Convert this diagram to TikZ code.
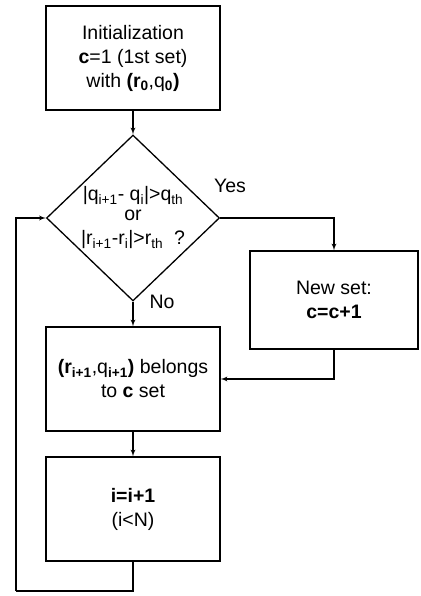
\documentclass[tikz,border=0pt]{standalone}
\usepackage{fontspec}
\setmainfont{Liberation Sans}
\usepackage{tikz}
\usetikzlibrary{arrows}
\usetikzlibrary{positioning}
\usetikzlibrary{shapes.geometric}

\begin{document}
\begin{tikzpicture}[%
>=latex', x=1pt, y=1pt, line width=1.3pt,
every node/.style={font=\fontsize{19.5}{24}\selectfont, align=center},
block/.style={draw, shape=rectangle, minimum width=174pt, minimum height=104pt, inner sep=0pt},
decision/.style={draw, shape=diamond, minimum width=173pt, minimum height=158pt, inner sep=0pt},
tag/.style={inner sep=0pt}
]
\useasboundingbox (0,0) rectangle (420,596);
\node[block] (init) at (133,538) {Initialization\\ \textbf{c}=1 (1st set)\\ with \textbf{(r\textsubscript{0}},q\textsubscript{\textbf{0}}\textbf{)}};
\node[decision,below of=init,node distance=160pt] (test) {|q\textsubscript{i+1}- q\textsubscript{i}|>q\textsubscript{th}\\[-4pt] or\\ |r\textsubscript{i+1}-r\textsubscript{i}|>r\textsubscript{th}\ \ ?};
\node[block,below of=test,node distance=161pt] (member) {\textbf{(r\textsubscript{i+1}},q\textsubscript{\textbf{i+1}}\textbf{)} belongs\\ to \textbf{c} set};
\node[block,below of=member,node distance=130pt] (incr) {\textbf{i=i+1}\\ (i<N)};
\node[block,minimum width=168pt,minimum height=98pt] (newset) at (334,296) {New set:\\ \textbf{c=c+1}};
\node[tag] (yes) at (230,410) {Yes};
\node[tag] (no) at (162,294) {No};
\coordinate (loop) at (16,5);
\draw[->] (init) -- (test);
\draw[->] (test) -- (member);
\draw[->] (member) -- (incr);
\draw[->] (test.east) -| (newset.north);
\draw[->] (newset.south) |- (member.east);
\draw (incr.south) |- (loop);
\draw[->] (loop) |- (test.west);
\end{tikzpicture}
\end{document}
